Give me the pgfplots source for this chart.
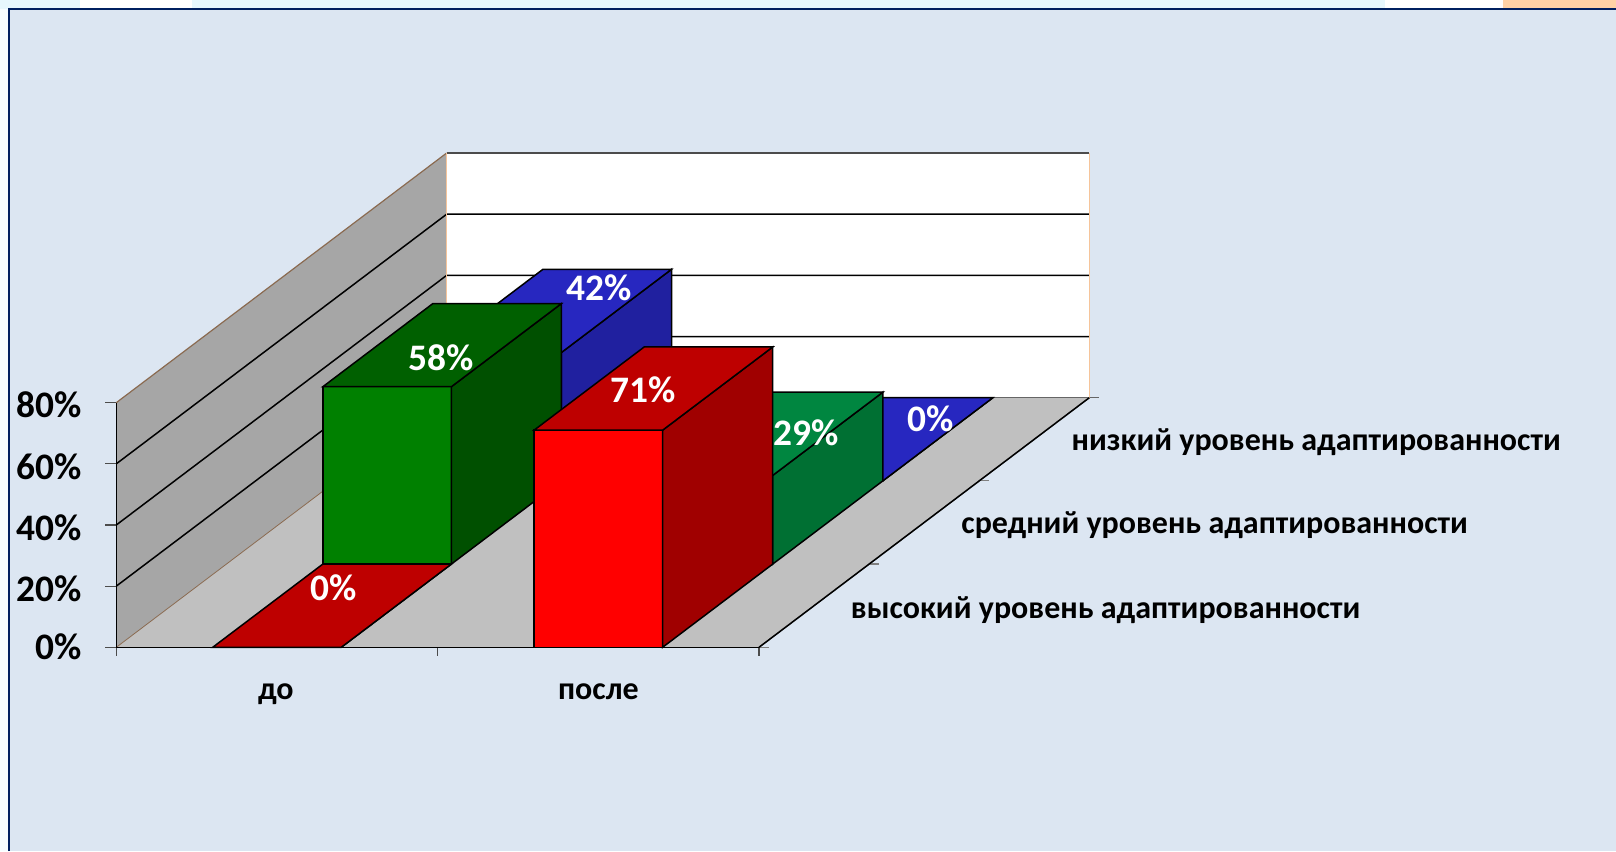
\documentclass[border=0pt]{standalone}
\usepackage{fontspec}
\setmainfont{Carlito}
\usepackage{pgfplots}
\pgfplotsset{compat=1.18}
\definecolor{bgc}{HTML}{DCE6F2}
\definecolor{navy}{HTML}{002060}
\definecolor{wallc}{HTML}{A6A6A6}
\definecolor{floorc}{HTML}{C0C0C0}
\definecolor{brownedge}{HTML}{8A6A50}
\definecolor{orangeedge}{HTML}{F5C49A}
\definecolor{redF}{HTML}{FF0000}\definecolor{redS}{HTML}{A00000}\definecolor{redT}{HTML}{BE0000}
\definecolor{grnF}{HTML}{008000}\definecolor{grnS}{HTML}{005000}\definecolor{grnT}{HTML}{006000}
\definecolor{mgrF}{HTML}{00A34D}\definecolor{mgrS}{HTML}{007033}\definecolor{mgrT}{HTML}{008640}
\definecolor{bluF}{HTML}{2A2AD0}\definecolor{bluS}{HTML}{20209F}\definecolor{bluT}{HTML}{2727C0}
\newcommand{\bbar}[8]{% x0 x1 y0 y1 val front side top
  \addplot3[fill=#6,draw=black,line width=0.75pt] coordinates {(#1,#3,0) (#2,#3,0) (#2,#3,#5) (#1,#3,#5)} -- cycle;
  \addplot3[fill=#7,draw=black,line width=0.75pt] coordinates {(#2,#3,0) (#2,#4,0) (#2,#4,#5) (#2,#3,#5)} -- cycle;
  \addplot3[fill=#8,draw=black,line width=0.75pt] coordinates {(#1,#3,#5) (#2,#3,#5) (#2,#4,#5) (#1,#4,#5)} -- cycle;
}
\begin{document}
\begin{tikzpicture}[x=0.5pt,y=0.5pt]
\useasboundingbox (0,0) rectangle (1616,851);
% slide behind the chart
\fill[white] (0,0) rectangle (1616,851);
\fill[color=cyan!10!white] (0,842) rectangle (1616,851);
\fill[white] (80,842) rectangle (192,851);
\fill[white] (1385,842) rectangle (1503,851);
\fill[color=orange!35!white] (1503,842) rectangle (1616,851);
\fill[color=cyan!3!white] (0,0) rectangle (9,842);
\fill[bgc] (9,0) rectangle (1616,842);
\draw[navy,line width=1.1pt] (9,0) -- (9,842) -- (1616,842);
\begin{axis}[
  at={(58.15pt,101.85pt)},anchor=origin,
  x={(160.675pt,0pt)},y={(55.05pt,41.6pt)},z={(0pt,1.529pt)},
  xmin=0,xmax=2,ymin=0,ymax=3,zmin=0,zmax=80,
  clip=false,axis on top=true,
  axis lines*=left,axis y line*=none,
  axis line style={line width=0.75pt},
  xtick={0.5,1.5},xticklabels={до,после},
  ytick=\empty,
  ztick={0,20,40,60,80},zticklabels={0\%,20\%,40\%,60\%,80\%},
  tick style={draw=none},
  tick align=outside,
  major tick length=5.5pt,
  every tick label/.append style={font=\fontsize{18.7}{18.7}\selectfont\bfseries,text=black},
  zticklabel style={xshift=-9.6pt,yshift=8.7pt},
  xticklabel style={font=\fontsize{16}{16}\selectfont\bfseries,xshift=8.2pt,yshift=-11.2pt},
]
% walls and floor
\addplot3[fill=wallc,draw=none] coordinates {(0,0,0) (0,3,0) (0,3,80) (0,0,80)} -- cycle;
\addplot3[fill=white,draw=none] coordinates {(0,3,0) (2,3,0) (2,3,80) (0,3,80)} -- cycle;
\addplot3[fill=floorc,draw=none] coordinates {(0,0,0) (2,0,0) (2,3,0) (0,3,0)} -- cycle;
% grid
\addplot3[black,line width=0.75pt] coordinates {(0,0,20) (0,3,20) (2,3,20)};
\addplot3[black,line width=0.75pt] coordinates {(0,0,40) (0,3,40) (2,3,40)};
\addplot3[black,line width=0.75pt] coordinates {(0,0,60) (0,3,60) (2,3,60)};
\addplot3[brownedge,line width=0.6pt] coordinates {(0,0,80) (0,3,80)};
\addplot3[black!70,line width=0.75pt] coordinates {(0,3,80) (2,3,80)};
\addplot3[brownedge,line width=0.4pt] coordinates {(0,0,0) (0,3,0)};
\addplot3[black!60,line width=0.75pt] coordinates {(0,3,0) (2.03,3,0)};
\addplot3[orangeedge,line width=0.6pt] coordinates {(0,3,0) (0,3,80)};
\addplot3[orangeedge,line width=0.6pt] coordinates {(2,3,0) (2,3,80)};
% floor edge and tick marks
\addplot3[black!50,line width=0.6pt] coordinates {(2,0,0) (2,3,0)};
\addplot3[black!50,line width=0.6pt] coordinates {(2,0,0) (2.03,0,0)};
\addplot3[black!50,line width=0.6pt] coordinates {(2,1,0) (2.03,1,0)};
\addplot3[black!50,line width=0.6pt] coordinates {(2,2,0) (2.03,2,0)};
\addplot3[black!70,line width=0.6pt] coordinates {(0,0,0) (0,0,-3)};
\addplot3[black!70,line width=0.6pt] coordinates {(1,0,0) (1,0,-3)};
\addplot3[black!70,line width=0.6pt] coordinates {(2,0,0) (2,0,-3)};
\addplot3[black!70,line width=0.6pt] coordinates {(-0.034,0,0) (0,0,0)};
\addplot3[black!70,line width=0.6pt] coordinates {(-0.034,0,20) (0,0,20)};
\addplot3[black!70,line width=0.6pt] coordinates {(-0.034,0,40) (0,0,40)};
\addplot3[black!70,line width=0.6pt] coordinates {(-0.034,0,60) (0,0,60)};
\addplot3[black!70,line width=0.6pt] coordinates {(-0.034,0,80) (0,0,80)};
% bars, back row first
\bbar{0.3}{0.7}{2}{3}{42}{bluF}{bluS}{bluT}
\bbar{1.3}{1.7}{2}{3}{0}{bluF}{bluS}{bluT}
\bbar{0.3}{0.7}{1}{2}{58}{grnF}{grnS}{grnT}
\bbar{1.3}{1.7}{1}{2}{29}{mgrF}{mgrS}{mgrT}
\bbar{0.3}{0.7}{0}{1}{0}{redF}{redS}{redT}
\bbar{1.3}{1.7}{0}{1}{71}{redF}{redS}{redT}
% value labels
\begin{scope}[every node/.style={font=\fontsize{18.7}{18.7}\selectfont\bfseries,text=white}]
\node[xshift=0.7pt,yshift=8.85pt] at (axis cs:0.5,0.5,0) {0\%};
\node[xshift=-0.5pt,yshift=-6.45pt] at (axis cs:0.5,1.5,58) {58\%};
\node[xshift=23.3pt,yshift=11.5pt] at (axis cs:0.5,2.5,42) {42\%};
\node[xshift=-5pt,yshift=-0.5pt] at (axis cs:1.5,0.5,71) {71\%};
\node[xshift=21.25pt,yshift=0.6pt] at (axis cs:1.5,1.5,29) {29\%};
\node[xshift=28.7pt,yshift=10.2pt] at (axis cs:1.5,2.5,0) {0\%};
\end{scope}
% series names beside the depth axis
\begin{scope}[every node/.style={font=\fontsize{16}{16}\selectfont\bfseries,text=black,anchor=west}]
\node[xshift=14.9pt,yshift=-2.15pt] at (axis cs:2,0.5,0) {высокий уровень адаптированности};
\node[xshift=15.1pt,yshift=-1.5pt] at (axis cs:2,1.5,0) {средний уровень адаптированности};
\node[xshift=15.2pt,yshift=-1.35pt] at (axis cs:2,2.5,0) {низкий уровень адаптированности};
\end{scope}
\end{axis}
\end{tikzpicture}
\end{document}
